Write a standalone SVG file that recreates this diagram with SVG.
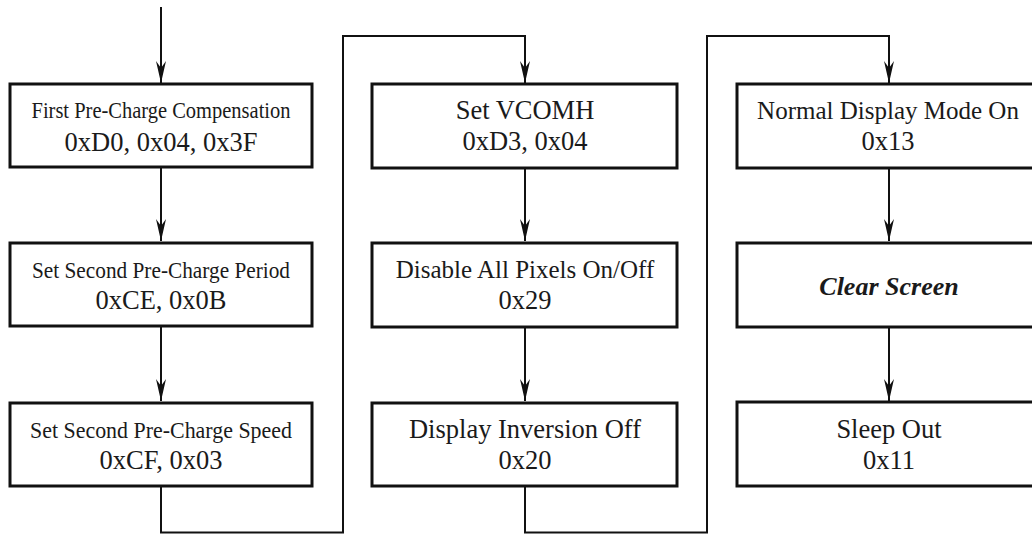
<svg xmlns="http://www.w3.org/2000/svg" width="1032" height="535" viewBox="0 0 1032 535">
<style>
.box{fill:#fff;stroke:#111;stroke-width:3}
.t{font-family:"Liberation Serif","Times New Roman",serif;font-size:26.5px;fill:#1a1a1a;text-anchor:middle}
.s{font-size:24px}
.m{font-size:25px}
.bi{font-weight:bold;font-style:italic;font-size:26px}
.c{fill:none;stroke:#111;stroke-width:2}
</style>
<defs>
<marker id="ah" viewBox="0 0 22 10" refX="22" refY="5" markerWidth="22" markerHeight="10" markerUnits="userSpaceOnUse" orient="auto">
<path d="M0,0 L22,5 L0,10 L7,5 Z" fill="#111"/>
</marker>
</defs>
<g id="connectors">
<path class="c" d="M161,7 V83" marker-end="url(#ah)"/>
<path class="c" d="M161,168 V241" marker-end="url(#ah)"/>
<path class="c" d="M161,327 V401" marker-end="url(#ah)"/>
<path class="c" d="M161,487 V532.5 H343 V36 H525 V83" marker-end="url(#ah)"/>
<path class="c" d="M525,169 V241" marker-end="url(#ah)"/>
<path class="c" d="M525,328 V401" marker-end="url(#ah)"/>
<path class="c" d="M525,487 V532.5 H707 V36 H889 V83" marker-end="url(#ah)"/>
<path class="c" d="M889,169 V241" marker-end="url(#ah)"/>
<path class="c" d="M889,328 V401" marker-end="url(#ah)"/>
</g>
<g id="n1">
<rect class="box" x="10" y="84" width="302" height="83"/>
<text class="t s" x="161" y="118" textLength="259" lengthAdjust="spacingAndGlyphs">First Pre-Charge Compensation</text>
<text class="t" x="161" y="151">0xD0, 0x04, 0x3F</text>
</g>
<g id="n2">
<rect class="box" x="10" y="243" width="302" height="83"/>
<text class="t s" x="161" y="278" textLength="258" lengthAdjust="spacingAndGlyphs">Set Second Pre-Charge Period</text>
<text class="t" x="161" y="309">0xCE, 0x0B</text>
</g>
<g id="n3">
<rect class="box" x="10" y="403" width="302" height="83"/>
<text class="t s" x="161" y="438" textLength="262" lengthAdjust="spacingAndGlyphs">Set Second Pre-Charge Speed</text>
<text class="t" x="161" y="469">0xCF, 0x03</text>
</g>
<g id="n4">
<rect class="box" x="372" y="84" width="305" height="84"/>
<text class="t" x="525" y="119">Set VCOMH</text>
<text class="t" x="525" y="150">0xD3, 0x04</text>
</g>
<g id="n5">
<rect class="box" x="372" y="243" width="305" height="84"/>
<text class="t m" x="525" y="278">Disable All Pixels On/Off</text>
<text class="t" x="525" y="309">0x29</text>
</g>
<g id="n6">
<rect class="box" x="372" y="403" width="305" height="83"/>
<text class="t" x="525" y="438">Display Inversion Off</text>
<text class="t" x="525" y="469">0x20</text>
</g>
<g id="n7">
<path class="box" d="M1032,84 H737 V168 H1032"/>
<text class="t m" x="888" y="119">Normal Display Mode On</text>
<text class="t" x="888" y="150">0x13</text>
</g>
<g id="n8">
<path class="box" d="M1032,243 H737 V327 H1032"/>
<text class="t bi" x="889" y="295">Clear Screen</text>
</g>
<g id="n9">
<path class="box" d="M1032,402 H737 V486 H1032"/>
<text class="t" x="889" y="438">Sleep Out</text>
<text class="t" x="889" y="469">0x11</text>
</g>
</svg>
